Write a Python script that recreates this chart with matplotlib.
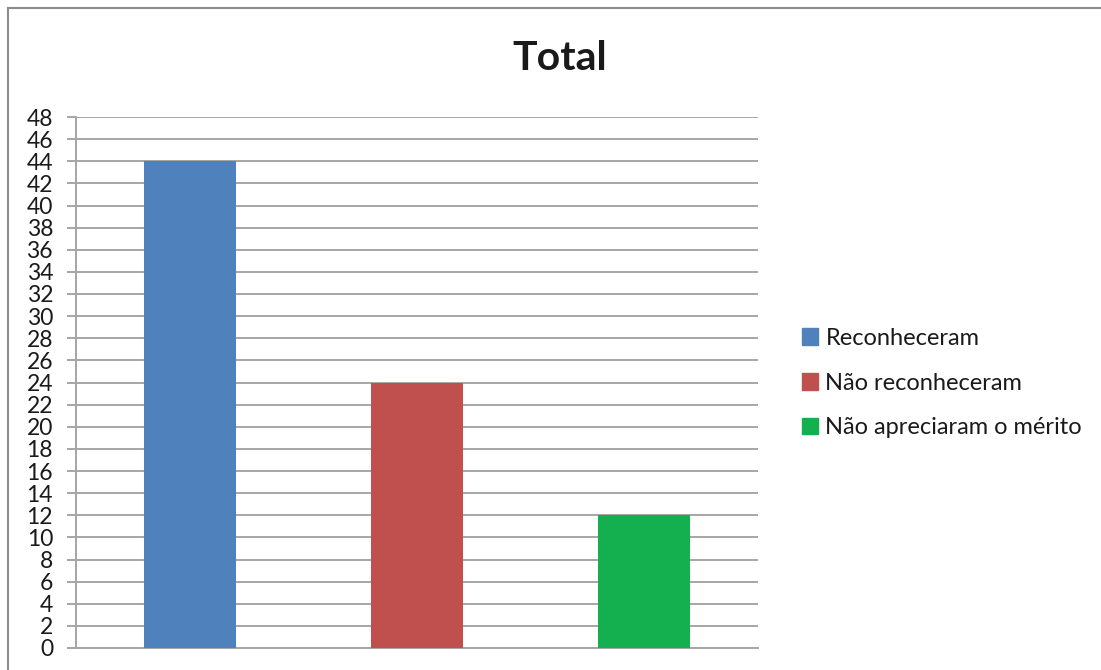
import matplotlib
matplotlib.use("Agg")
import matplotlib.pyplot as plt
from matplotlib.lines import Line2D

categories = ["Reconheceram", "Não reconheceram", "Não apreciaram o mérito"]
values = [44, 24, 12]
colors = ["#4F81BD", "#C0504D", "#14B04F"]
yticks = list(range(0, 49, 2))

plt.rcParams['font.family'] = ['Lato', 'DejaVu Sans']

fig = plt.figure(figsize=(11.01, 6.70), dpi=100)
W, H = 1101, 670
ax = fig.add_axes([76 / W, 1 - 648 / H, (758 - 76) / W, (648 - 117) / H])

grid_c = "#A6A6A6"
x = list(range(len(categories)))
ax.bar(x, values, width=0.405, color=colors, zorder=3)
ax.set_xlim(-0.5, 2.5)
ax.set_ylim(0, 48)
ax.set_yticks(yticks)
ax.set_yticklabels([str(v) for v in yticks], fontsize=16.5, color="#1A1A1A")
ax.set_xticks([])
ax.yaxis.grid(True, color=grid_c, linewidth=1.4, zorder=0)
ax.tick_params(axis='y', length=6.5, width=1.4, color=grid_c, pad=10)
for s in ["top", "right"]:
    ax.spines[s].set_visible(False)
ax.spines["left"].set_color(grid_c)
ax.spines["left"].set_linewidth(1.4)
ax.spines["bottom"].set_color(grid_c)
ax.spines["bottom"].set_linewidth(1.4)

fig.text(560 / W, 1 - 58 / H, "Total", ha="center", va="center",
         fontsize=29.5, fontweight="bold", color="#1A1A1A")

handles = [plt.Rectangle((0, 0), 1, 1, color=c) for c in colors]
fig.legend(handles, categories, loc="center left",
           bbox_to_anchor=(790 / W, 1 - 383 / H), frameon=False,
           fontsize=17, handlelength=0.7, handleheight=0.7,
           handletextpad=0.3, labelspacing=1.0, borderpad=0,
           labelcolor="#1A1A1A")

# outer chart frame (left and top edges visible)
fig.add_artist(Line2D([8 / W, 8 / W], [0, 1 - 8 / H], transform=fig.transFigure,
                      color="#8C8C8C", linewidth=1.5))
fig.add_artist(Line2D([8 / W, 1], [1 - 8 / H, 1 - 8 / H], transform=fig.transFigure,
                      color="#8C8C8C", linewidth=1.5))

fig.savefig("out.png", dpi=100)
